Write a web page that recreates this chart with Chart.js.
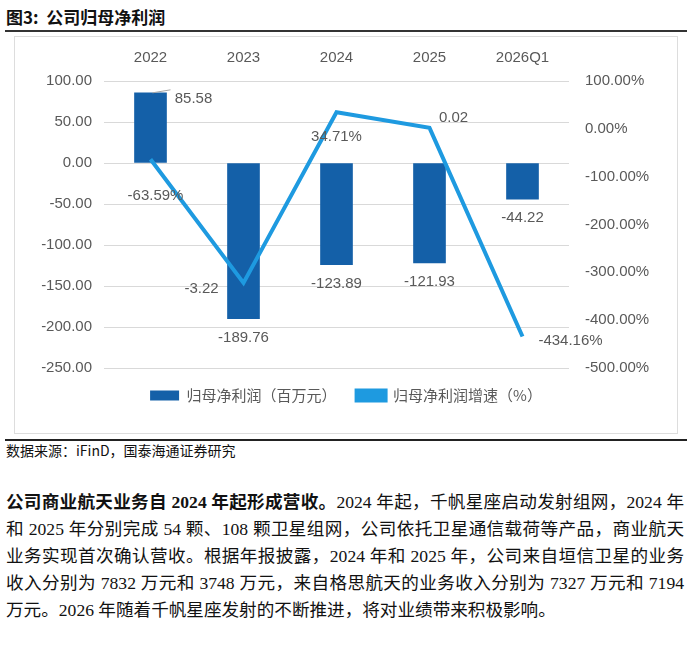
<!DOCTYPE html>
<html><head><meta charset="utf-8">
<script src="https://cdn.jsdelivr.net/npm/chart.js@4/dist/chart.umd.min.js"></script>
<style>
body{margin:0;background:#fff;width:692px;height:653px;position:relative;overflow:hidden;font-family:"Liberation Serif","Noto Sans CJK SC",serif;}
#title{position:absolute;left:6px;top:4px;font:bold 17px "Noto Sans CJK SC";color:#111;}
#tl{position:absolute;left:5px;top:30px;width:682px;height:2px;background:#333;}
#box{position:absolute;left:14px;top:36px;width:662px;height:396px;border:1px solid #ddd;}
#bl{position:absolute;left:5px;top:439px;width:682px;height:1.5px;background:#222;}
#src{position:absolute;left:6px;top:440px;font:14px "Noto Sans CJK SC";color:#111;}
#para{position:absolute;left:6px;top:489px;width:678px;font:17.6px/27px "Liberation Serif","Noto Sans CJK SC";color:#111;text-align:justify;}
</style></head><body>
<div id="title">图3:&nbsp; 公司归母净利润</div>
<div id="tl"></div>
<div id="box"><canvas id="c" width="662" height="396"></canvas></div>
<div id="bl"></div>
<div id="src">数据来源：iFinD，国泰海通证券研究</div>
<div id="para"><b>公司商业航天业务自 2024 年起形成营收。</b>2024 年起，千帆星座启动发射组网，2024 年和 2025 年分别完成 54 颗、108 颗卫星组网，公司依托卫星通信载荷等产品，商业航天业务实现首次确认营收。根据年报披露，2024 年和 2025 年，公司来自垣信卫星的业务收入分别为 7832 万元和 3748 万元，来自格思航天的业务收入分别为 7327 万元和 7194 万元。2026 年随着千帆星座发射的不断推进，将对业绩带来积极影响。</div>
<script>
const categories=["2022","2023","2024","2025","2026Q1"];
const profit=[85.58,-189.76,-123.89,-121.93,-44.22];
const growth=[-63.59,-322,34.71,2,-434.16];
const growthLabels=["-63.59%","-3.22","34.71%","0.02","-434.16%"];
const profitLabels=["85.58","-189.76","-123.89","-121.93","-44.22"];
const leftTicks=[100,50,0,-50,-100,-150,-200,-250];
const rightTicks=[100,0,-100,-200,-300,-400,-500];
const BAR="#1460a8",LINE="#1e9ae0",TXT="#595959";
const lineOffs=[[5,37],[-42,6],[0,25],[24,-10],[48,4]];
const labelsPlugin={id:'lbl',afterDatasetsDraw(ch){
 const c=ch.ctx;c.save();c.font='15px "Liberation Sans"';c.fillStyle=TXT;c.textAlign='center';c.textBaseline='middle';
 const bm=ch.getDatasetMeta(0),lm=ch.getDatasetMeta(1);
 bm.data.forEach((b,i)=>{
  if(profit[i]>=0){c.fillText(profitLabels[i],b.x+43,b.y+6);
   c.strokeStyle='#a6a6a6';c.lineWidth=1;c.beginPath();c.moveTo(b.x+2,b.y);c.lineTo(b.x+20,b.y-3);c.stroke();}
  else c.fillText(profitLabels[i],b.x,b.y+19);});
 lm.data.forEach((p,i)=>{c.fillText(growthLabels[i],p.x+lineOffs[i][0],p.y+lineOffs[i][1]);});
 c.restore();}};
new Chart(document.getElementById('c'),{
 data:{labels:categories,datasets:[
  {type:'bar',label:'归母净利润（百万元）',data:profit,backgroundColor:BAR,yAxisID:'y',barThickness:32,order:2},
  {type:'line',label:'归母净利润增速（%）',data:growth,borderColor:LINE,backgroundColor:LINE,borderWidth:4,pointRadius:0,tension:0,yAxisID:'y1',order:1}]},
 options:{responsive:false,animation:false,
  layout:{padding:{top:0,bottom:20,left:0,right:0}},
  plugins:{tooltip:{enabled:false},
   legend:{position:'bottom',labels:{sort:(a,b)=>a.datasetIndex-b.datasetIndex,boxWidth:29,boxHeight:10,padding:20,color:TXT,font:{size:15,family:'"Noto Sans CJK SC"'}}}},
  scales:{
   x:{position:'top',grid:{display:false},border:{display:false},ticks:{color:TXT,font:{size:15,family:'"Liberation Sans"'},padding:6},afterFit(s){s.height=44;}},
   y:{position:'left',min:-250,max:100,afterBuildTicks(s){s.ticks=leftTicks.map(v=>({value:v}));},
      grid:{color:'#d9d9d9',drawTicks:false},border:{display:false},
      ticks:{color:TXT,font:{size:15,family:'"Liberation Sans"'},padding:12,callback:v=>v.toFixed(2)},afterFit(s){s.width=89;}},
   y1:{position:'right',min:-500,max:100,afterBuildTicks(s){s.ticks=rightTicks.map(v=>({value:v}));},
      grid:{display:false,drawTicks:false},border:{display:false},
      ticks:{color:TXT,font:{size:15,family:'"Liberation Sans"'},padding:16,callback:v=>v.toFixed(2)+'%'},afterFit(s){s.width=108;}}
  }},
 plugins:[labelsPlugin]});
</script></body></html>
